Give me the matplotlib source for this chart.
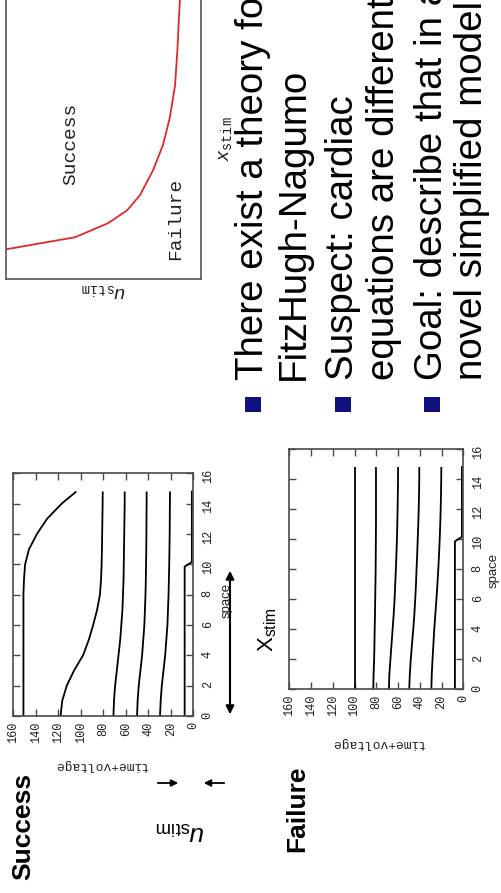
import matplotlib
matplotlib.use("Agg")
import matplotlib.pyplot as plt
from matplotlib.patches import Rectangle, FancyArrowPatch

# ---------------- data ----------------
space = [0, 1, 2, 3, 4, 5, 6, 7, 8, 9, 10, 11, 12, 13, 14, 14.8]

success_curves = [
    [151, 151, 151, 151, 151, 151, 151, 151, 151, 150.5, 149.5, 146, 139, 130, 117, 104],
    [118, 116.5, 112.5, 106, 98, 93, 89, 85.5, 83, 82, 81.5, 81.2, 81, 80.8, 80.6, 80.5],
    [71, 70.5, 69.5, 68, 66.5, 65, 64, 63, 62.5, 62, 61.8, 61.6, 61.4, 61.2, 61, 61],
    [50, 49.5, 48.5, 47, 45.5, 44.5, 43.5, 43, 42.5, 42.2, 42, 41.8, 41.7, 41.6, 41.5, 41.5],
    [29.6, 29, 28, 26.5, 25, 24, 23, 22.5, 22, 21.7, 21.4, 21.2, 21, 20.9, 20.8, 20.7],
]
failure_curves = [
    [100] * 16,
    [82.8, 82.5, 82, 81.7, 81.5, 81.2, 81, 80.8, 80.6, 80.5, 80.4, 80.3, 80.3, 80.3, 80.3, 80.3],
    [68.4, 68, 67, 66, 65, 64, 63.2, 62.6, 62, 61.5, 61, 60.7, 60.4, 60.2, 60, 60],
    [49.7, 49.2, 48.3, 47.2, 46, 45, 44.2, 43.5, 43, 42.4, 41.9, 41.4, 41, 40.7, 40.5, 40.5],
    [29.4, 29, 28.3, 27.5, 26.7, 25.7, 24.7, 23.8, 23, 22.3, 21.7, 21.2, 20.8, 20.5, 20.3, 20.2],
]
stim_space = [0, 9.85, 10.15, 14.8]
stim_values = [7.7, 7.7, 1.3, 1.3]

value_ticks = list(range(0, 161, 20))
space_ticks = list(range(0, 17, 2))

# threshold curve (u_stim vs x_stim)
thr_x_stim = [1.07, 1.50, 2.00, 2.46, 3.00, 3.89, 4.79, 5.79, 6.93, 8.18, 9.36, 9.96, 10.4]
thr_u_stim = [1.0, 0.646, 0.477, 0.379, 0.313, 0.246, 0.195, 0.159, 0.133, 0.121, 0.113, 0.108, 0.105]

bullets = [
    ["There exist a theory for", "FitzHugh-Nagumo"],
    ["Suspect: cardiac", "equations are different"],
    ["Goal: describe that in a", "novel simplified model"],
]

# ---------------- layout helpers ----------------
W, H = 501, 893
plt.rcParams['mathtext.fontset'] = 'custom'
plt.rcParams['mathtext.rm'] = 'Liberation Sans'
plt.rcParams['mathtext.it'] = 'Liberation Sans:italic'
plt.rcParams['mathtext.tt'] = 'Liberation Mono'

fig = plt.figure(figsize=(W / 100, H / 100), dpi=100)
fig.patch.set_facecolor('white')


def fp(x, y):
    return (x / W, 1 - y / H)


def rect(l, t, r, b):
    return [l / W, 1 - b / H, (r - l) / W, (b - t) / H]


MONO = 'Liberation Mono'
SANS = 'Liberation Sans'
FRAME = '#4a4a4a'


def gnuplot_axes(pos, curves):
    ax = fig.add_axes(pos)
    for c in curves:
        ax.plot(c, space, color='black', lw=1.3, solid_capstyle='butt')
    ax.plot(stim_values, stim_space, color='black', lw=1.3)
    ax.set_xlim(160, 0)
    ax.set_ylim(0, 16)
    ax.set_xticks(value_ticks)
    ax.set_yticks(space_ticks)
    ax.tick_params(axis='both', direction='in', length=5, width=1, color=FRAME,
                   top=True, bottom=True, left=True, right=True, labelsize=8.6,
                   labelcolor='#222222')
    ax.tick_params(axis='x', labelrotation=90, pad=4)
    ax.tick_params(axis='y', labelleft=False, labelright=True, labelrotation=90, pad=6)
    for lbl in ax.get_xticklabels() + ax.get_yticklabels():
        lbl.set_fontfamily(MONO)
    for s in ax.spines.values():
        s.set_color(FRAME)
        s.set_linewidth(1.2)
    return ax


ax1 = gnuplot_axes(rect(13.3, 473.3, 193.3, 716), success_curves)
ax2 = gnuplot_axes(rect(289.3, 449, 463.3, 689.3), failure_curves)

# axis labels
fig.text(*fp(100, 765), 'time+voltage', rotation=180, ha='center', va='center',
         family=MONO, fontsize=9.3, color='#222222')
fig.text(*fp(377, 743), 'time+voltage', rotation=180, ha='center', va='center',
         family=MONO, fontsize=9.3, color='#222222')
fig.text(*fp(227, 600), 'space', rotation=90, ha='center', va='center',
         family=SANS, fontsize=9.5, color='#222222')
fig.text(*fp(494, 570), 'space', rotation=90, ha='center', va='center',
         family=SANS, fontsize=9.5, color='#222222')

# threshold plot
ax3 = fig.add_axes(rect(6, -1, 201, 279.3))
ax3.plot(thr_u_stim, thr_x_stim, color='#e02828', lw=1.3)
ax3.set_xlim(1, 0)
ax3.set_ylim(0, 10)
ax3.set_xticks([])
ax3.set_yticks([])
for s in ax3.spines.values():
    s.set_color('#555555')
    s.set_linewidth(1.2)
fig.text(*fp(70.5, 144), 'Success', rotation=90, ha='center', va='center',
         family=MONO, fontsize=14, color='#222222')
fig.text(*fp(176, 219), 'Failure', rotation=90, ha='center', va='center',
         family=MONO, fontsize=14, color='#222222')
fig.text(*fp(103, 292), r'$u_{\mathtt{stim}}$', rotation=180, ha='center', va='center',
         fontsize=14, color='#222222')
fig.text(*fp(225, 139), r'$x_{\mathtt{stim}}$', rotation=90, ha='center', va='center',
         fontsize=14, color='#222222')

# slide titles / annotations
fig.text(*fp(23, 826), 'Success', rotation=90, ha='center', va='center',
         family=SANS, weight='bold', fontsize=19)
fig.text(*fp(297.5, 809), 'Failure', rotation=90, ha='center', va='center',
         family=SANS, weight='bold', fontsize=19)
fig.text(*fp(180, 832), r'$u_{\mathrm{stim}}$', rotation=180, ha='center', va='center',
         fontsize=19)
fig.text(*fp(268, 630), r'$\mathrm{X}_{\mathrm{stim}}$', rotation=90, ha='center', va='center',
         fontsize=16)

fig.add_artist(FancyArrowPatch(fp(230, 568), fp(230, 717), transform=fig.transFigure,
                               arrowstyle='<|-|>', mutation_scale=12, lw=1.5, color='black'))
fig.add_artist(FancyArrowPatch(fp(155, 783), fp(181, 783), transform=fig.transFigure,
                               arrowstyle='-|>', mutation_scale=10, lw=1.3, color='black'))
fig.add_artist(FancyArrowPatch(fp(227, 783), fp(201, 783), transform=fig.transFigure,
                               arrowstyle='-|>', mutation_scale=10, lw=1.3, color='black'))

# bullets
bullet_centers_x = [253, 343, 432]
sq = 15.5
for bx, lines in zip(bullet_centers_x, bullets):
    fig.add_artist(Rectangle(((bx - sq / 2) / W, 1 - (404.5 + sq / 2) / H), sq / W, sq / H,
                             transform=fig.transFigure, facecolor='#10107e', edgecolor='none'))
    base = bx + 10
    for i, line in enumerate(lines):
        fig.text(*fp(base + 40.5 * i, 380), line, rotation=90, rotation_mode='anchor',
                 ha='left', va='baseline', family=SANS, fontsize=27.7, color='black')

fig.savefig('out.png', dpi=100)
